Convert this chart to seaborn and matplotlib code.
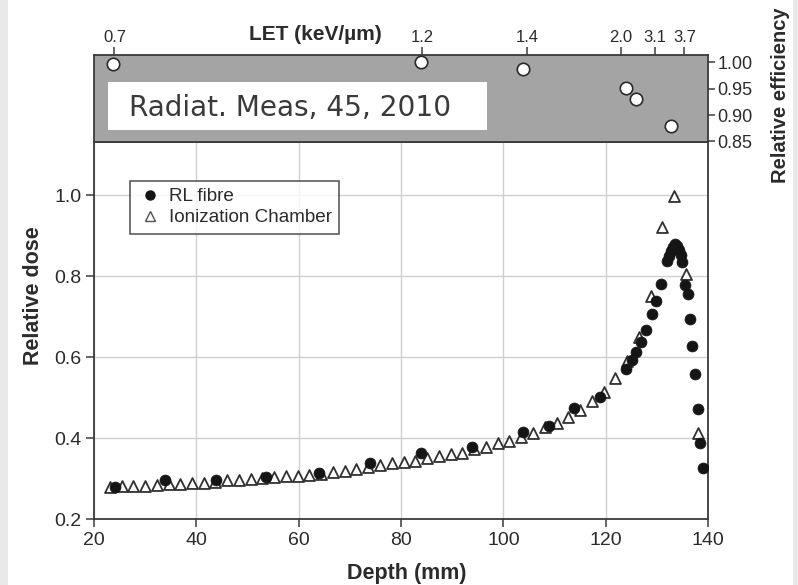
import numpy as np
import pandas as pd
import matplotlib
matplotlib.use("Agg")
import matplotlib.pyplot as plt
import seaborn as sns
from matplotlib.patches import Rectangle
from matplotlib.lines import Line2D

# ---- data ----
ic_depth = [23.1, 25.4, 27.7, 30.0, 32.3, 34.6, 36.9, 39.2, 41.5, 43.7, 46.0, 48.3,
            50.6, 52.9, 55.2, 57.5, 59.8, 62.1, 64.4, 66.7, 69.0, 71.3, 73.6, 75.9,
            78.2, 80.5, 82.8, 85.1, 87.4, 89.7, 92.0, 94.3, 96.6, 98.9, 101.2, 103.5,
            105.8, 108.1, 110.4, 112.7, 115.0, 117.3, 119.6, 121.9, 124.2, 126.5,
            128.8, 131.1, 133.4, 135.7, 138.0]
ic_dose = [0.280, 0.281, 0.281, 0.283, 0.285, 0.287, 0.288, 0.289, 0.289, 0.292, 0.296, 0.298,
           0.300, 0.301, 0.304, 0.306, 0.308, 0.310, 0.313, 0.316, 0.320, 0.324, 0.330, 0.335,
           0.338, 0.341, 0.344, 0.352, 0.356, 0.360, 0.364, 0.373, 0.379, 0.388, 0.394, 0.404,
           0.414, 0.427, 0.439, 0.453, 0.470, 0.492, 0.515, 0.548, 0.591, 0.651,
           0.751, 0.921, 0.998, 0.805, 0.414]

rl_depth = [24.1, 33.9, 43.8, 53.7, 64.0, 73.9, 83.9, 93.9, 103.9, 109.0, 113.9, 118.9,
            123.9, 125.1, 125.9, 127.0, 127.9, 129.0, 129.9, 130.9, 131.9, 132.3, 132.7,
            133.1, 133.5, 133.9, 134.3, 134.7, 135.0, 135.5, 136.0, 136.5, 136.9, 137.4,
            138.0, 138.4, 139.0]
rl_dose = [0.279, 0.297, 0.297, 0.305, 0.315, 0.338, 0.363, 0.379, 0.416, 0.430, 0.475, 0.503,
           0.572, 0.593, 0.613, 0.637, 0.667, 0.708, 0.740, 0.780, 0.839, 0.851, 0.862,
           0.872, 0.880, 0.876, 0.866, 0.852, 0.836, 0.779, 0.757, 0.694, 0.629, 0.558,
           0.472, 0.388, 0.326]

eff_depth = [23.8, 83.9, 103.9, 124.0, 126.0, 132.7]
eff_value = [0.997, 1.000, 0.987, 0.952, 0.930, 0.880]

let_tick_depth = [24.0, 84.2, 104.6, 122.9, 129.6, 135.4]
let_tick_labels = ["0.7", "1.2", "1.4", "2.0", "3.1", "3.7"]

depth_ticks = [20, 40, 60, 80, 100, 120, 140]
dose_ticks = [0.2, 0.4, 0.6, 0.8, 1.0]
eff_ticks = [0.85, 0.90, 0.95, 1.00]

ic_df = pd.DataFrame({"depth": ic_depth, "dose": ic_dose})
rl_df = pd.DataFrame({"depth": rl_depth, "dose": rl_dose})
eff_df = pd.DataFrame({"depth": eff_depth, "eff": eff_value})

# ---- style ----
sns.set_theme(style="white")
plt.rcParams["font.family"] = ["Liberation Sans", "DejaVu Sans"]

W, H = 798, 585
fig = plt.figure(figsize=(W / 100, H / 100), dpi=100)
fig.patch.set_facecolor("white")
# scanned page edges
fig.add_artist(Rectangle((0, 0), 8 / W, 1, transform=fig.transFigure,
                         facecolor="#e9e9e9", edgecolor="none", zorder=-5))
fig.add_artist(Rectangle((793 / W, 0), 5 / W, 1, transform=fig.transFigure,
                         facecolor="#e9e9e9", edgecolor="none", zorder=-5))

L, R = 94, 708
main_top, main_bot = 142, 519.3
top_top = 55
ax = fig.add_axes([L / W, 1 - main_bot / H, (R - L) / W, (main_bot - main_top) / H])
axt = fig.add_axes([L / W, 1 - main_top / H, (R - L) / W, (main_top - top_top) / H])

spine_col = "#3a3a3a"
text_col = "#2b2b2b"

# ---- main panel ----
sns.scatterplot(data=ic_df, x="depth", y="dose", ax=ax, marker="^", s=62,
                facecolor="white", edgecolor="#303030", linewidth=1.3, zorder=3)
sns.scatterplot(data=rl_df, x="depth", y="dose", ax=ax, marker="o", s=62,
                color="#151515", edgecolor="#151515", linewidth=0.5, zorder=4)

ax.set_xlim(20, 140)
ax.set_ylim(0.2, 1.1316)
ax.set_xticks(depth_ticks)
ax.set_yticks(dose_ticks)
ax.set_yticklabels([f"{v:.1f}" for v in dose_ticks])
ax.grid(True, color="#cfcfcf", linewidth=1.0)
ax.set_axisbelow(True)
for s in ax.spines.values():
    s.set_color(spine_col)
    s.set_linewidth(1.3)
ax.tick_params(axis="both", direction="out", length=6, width=1.1, color=spine_col,
               labelsize=14, labelcolor=text_col, pad=3,
               bottom=True, left=True, top=False, right=False)
ax.set_xlabel("Depth (mm)", fontsize=15.5, fontweight="bold", color=text_col)
ax.set_ylabel("Relative dose", fontsize=15.5, fontweight="bold", color=text_col)
ax.xaxis.set_label_coords((407 - L) / (R - L), (main_bot - 563) / (main_bot - main_top))
ax.yaxis.set_label_coords((44 - L) / (R - L), (main_bot - 296) / (main_bot - main_top))

handles = [
    Line2D([], [], marker="o", linestyle="none", markersize=6.5,
           markerfacecolor="#151515", markeredgecolor="#151515"),
    Line2D([], [], marker="^", linestyle="none", markersize=6.5,
           markerfacecolor="white", markeredgecolor="#505050", markeredgewidth=1.0),
]
leg = ax.legend(handles, ["RL fibre", "Ionization Chamber"], loc="upper left",
                bbox_to_anchor=((130 - L) / (R - L), (main_bot - 180.7) / (main_bot - main_top)),
                fontsize=13.6, frameon=True, fancybox=False, borderpad=0.4,
                handletextpad=0.35, handlelength=1.3, labelspacing=0.2,
                borderaxespad=0)
leg.get_frame().set_edgecolor("#222222")
leg.get_frame().set_linewidth(1.1)
for t in leg.get_texts():
    t.set_color(text_col)

# ---- top panel ----
axt.set_facecolor("#a4a4a4")
axt.add_patch(Rectangle(((108 - L) / (R - L), (main_top - 130) / (main_top - top_top)),
                        (487 - 108) / (R - L), (130 - 82) / (main_top - top_top),
                        transform=axt.transAxes, facecolor="white", edgecolor="none", zorder=1))
axt.text((129 - L) / (R - L), (main_top - 108) / (main_top - top_top),
         "Radiat. Meas, 45, 2010", transform=axt.transAxes, fontsize=20.2,
         family="DejaVu Sans", color="#3a3a3a", va="center", ha="left", zorder=2)
sns.scatterplot(data=eff_df, x="depth", y="eff", ax=axt, marker="o", s=80,
                facecolor="white", edgecolor="#2a2a2a", linewidth=1.2, zorder=5,
                clip_on=False)
axt.set_xlim(20, 140)
axt.set_ylim(0.849, 1.0142)
axt.set_xticks(let_tick_depth)
axt.set_xticklabels(let_tick_labels)
axt.set_yticks(eff_ticks)
axt.set_yticklabels([f"{v:.2f}" for v in eff_ticks])
axt.xaxis.tick_top()
axt.yaxis.tick_right()
axt.yaxis.set_label_position("right")
axt.set_xlabel("")
axt.set_ylabel("Relative efficiency", fontsize=14.5, fontweight="bold", color=text_col)
axt.yaxis.set_label_coords((771 - L) / (R - L), (main_top - 95) / (main_top - top_top))
for s in axt.spines.values():
    s.set_color(spine_col)
    s.set_linewidth(1.3)
axt.tick_params(axis="x", direction="out", length=6, width=1.1, color=spine_col,
                labelsize=12, labelcolor=text_col, pad=1, top=True, bottom=False)
axt.tick_params(axis="y", direction="out", length=5, width=1.1, color=spine_col,
                labelsize=13, labelcolor=text_col, pad=2, right=True, left=False)
axt.grid(False)
axt.text((315 - L) / (R - L), (main_top - 34) / (main_top - top_top), "LET (keV/\u00b5m)",
         transform=axt.transAxes, ha="center", va="center", fontsize=15,
         fontweight="bold", color=text_col)

fig.savefig("out.png", dpi=100)
